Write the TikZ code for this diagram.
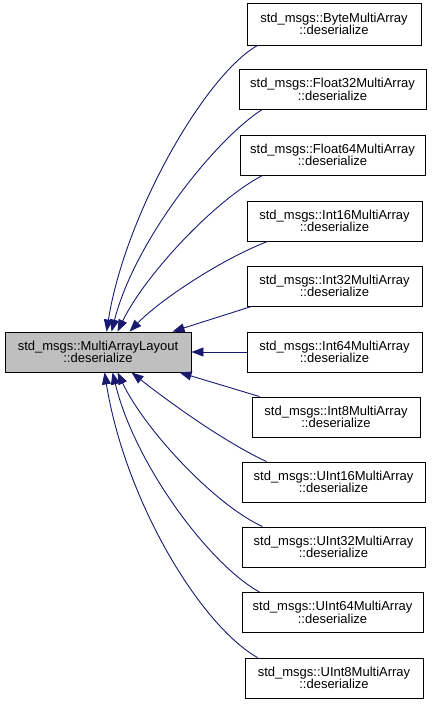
\documentclass[tikz,border=0pt]{standalone}
\usepackage{fontspec}
\setmainfont{Liberation Sans}
\usetikzlibrary{arrows.meta}
\definecolor{edgeblue}{RGB}{25,25,112}
\definecolor{greyfill}{RGB}{191,191,191}
\begin{document}
\begin{tikzpicture}[x=1pt,y=-1pt,
  fn/.style={draw=black, line width=0.9pt, fill=white, minimum height=40pt, inner sep=0pt, align=center, font=\fontsize{13}{12.5}\selectfont},
  mainfn/.style={fn, fill=greyfill},
  edge/.style={draw=edgeblue, line width=0.9pt, -{Triangle[length=12pt,width=9pt]}}]
\useasboundingbox (0,0) rectangle (435,704);
\node[mainfn, minimum width=186pt] (main) at (98,352) {std\_msgs::MultiArrayLayout\\::deserialize};
\node[fn, minimum width=174pt, minimum height=42pt] (byte) at (334,24) {std\_msgs::ByteMultiArray\\::deserialize};
\node[fn, minimum width=187pt] (f32) at (332.5,89.5) {std\_msgs::Float32MultiArray\\::deserialize};
\node[fn, minimum width=185pt] (f64) at (332.5,155) {std\_msgs::Float64MultiArray\\::deserialize};
\node[fn, minimum width=175pt] (i16) at (334.5,221) {std\_msgs::Int16MultiArray\\::deserialize};
\node[fn, minimum width=175pt] (i32) at (334.5,286) {std\_msgs::Int32MultiArray\\::deserialize};
\node[fn, minimum width=175pt] (i64) at (334.5,352) {std\_msgs::Int64MultiArray\\::deserialize};
\node[fn, minimum width=168pt] (i8) at (336,417) {std\_msgs::Int8MultiArray\\::deserialize};
\node[fn, minimum width=183pt] (u16) at (333.5,482) {std\_msgs::UInt16MultiArray\\::deserialize};
\node[fn, minimum width=183pt] (u32) at (333.5,547) {std\_msgs::UInt32MultiArray\\::deserialize};
\node[fn, minimum width=181pt] (u64) at (332.5,612.5) {std\_msgs::UInt64MultiArray\\::deserialize};
\node[fn, minimum width=178pt] (u8) at (334,678) {std\_msgs::UInt8MultiArray\\::deserialize};
% upper edges
\draw[edge] ([xshift=11pt]byte.south west) .. controls (205,75) and (125,215) .. ([xshift=102pt]main.north west);
\draw[edge] ([xshift=23pt]f32.south west) .. controls (215,140) and (135,240) .. ([xshift=107pt]main.north west);
\draw[edge] ([xshift=23pt]f64.south west) .. controls (215,200) and (145,275) .. ([xshift=113pt]main.north west);
\draw[edge] ([xshift=21pt]i16.south west) .. controls (220,260) and (160,300) .. ([xshift=125pt]main.north west);
\draw[edge] ([xshift=5pt]i32.south west) -- ([xshift=168pt]main.north west);
\draw[edge] (i64.west) -- (main.east);
% lower edges
\draw[edge] ([xshift=8pt]i8.north west) -- ([xshift=175pt]main.south west);
\draw[edge] ([xshift=25pt]u16.north west) .. controls (220,440) and (160,395) .. ([xshift=127pt]main.south west);
\draw[edge] ([xshift=21pt]u32.north west) .. controls (215,505) and (145,430) .. ([xshift=113pt]main.south west);
\draw[edge] ([xshift=18pt]u64.north west) .. controls (210,565) and (135,465) .. ([xshift=108pt]main.south west);
\draw[edge] ([xshift=13pt]u8.north west) .. controls (200,625) and (125,500) .. ([xshift=100pt]main.south west);
\end{tikzpicture}
\end{document}
